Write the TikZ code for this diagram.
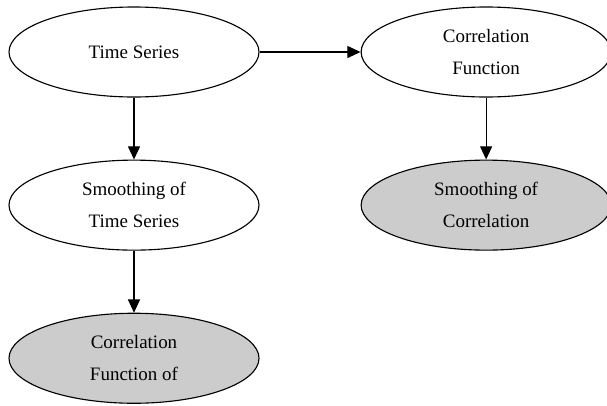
\documentclass[tikz,border=0pt]{standalone}
\usepackage{fontspec}
\setmainfont{Liberation Serif}
\usetikzlibrary{positioning,shapes.geometric,arrows.meta}

\begin{document}
\begin{tikzpicture}[
  node distance=1.55cm and 2.525cm,
  stage/.style={draw,ellipse,line width=0.8pt,minimum width=6.25cm,minimum height=2.25cm,inner sep=0pt,align=center,font=\fontsize{13.5}{23}\selectfont},
  result/.style={stage,fill=gray!40},
  flow/.style={-{Triangle[length=3.3mm,width=3mm]},line width=0.8pt}
]
\useasboundingbox (0,0) rectangle (15.175,-10.125);
\node[stage] (ts) at (3.35,-1.3) {Time Series};
\node[stage,right=of ts] (cf) {Correlation\\Function};
\node[stage,below=of ts] (sts) {Smoothing of\\Time Series};
\node[result,below=of cf] (sc) {Smoothing of\\Correlation};
\node[result,below=of sts] (cfo) {Correlation\\Function of};
\path (ts) edge[flow] (cf);
\path (ts) edge[flow] (sts);
\path (cf) edge[flow] (sc);
\path (sts) edge[flow] (cfo);
\end{tikzpicture}
\end{document}
